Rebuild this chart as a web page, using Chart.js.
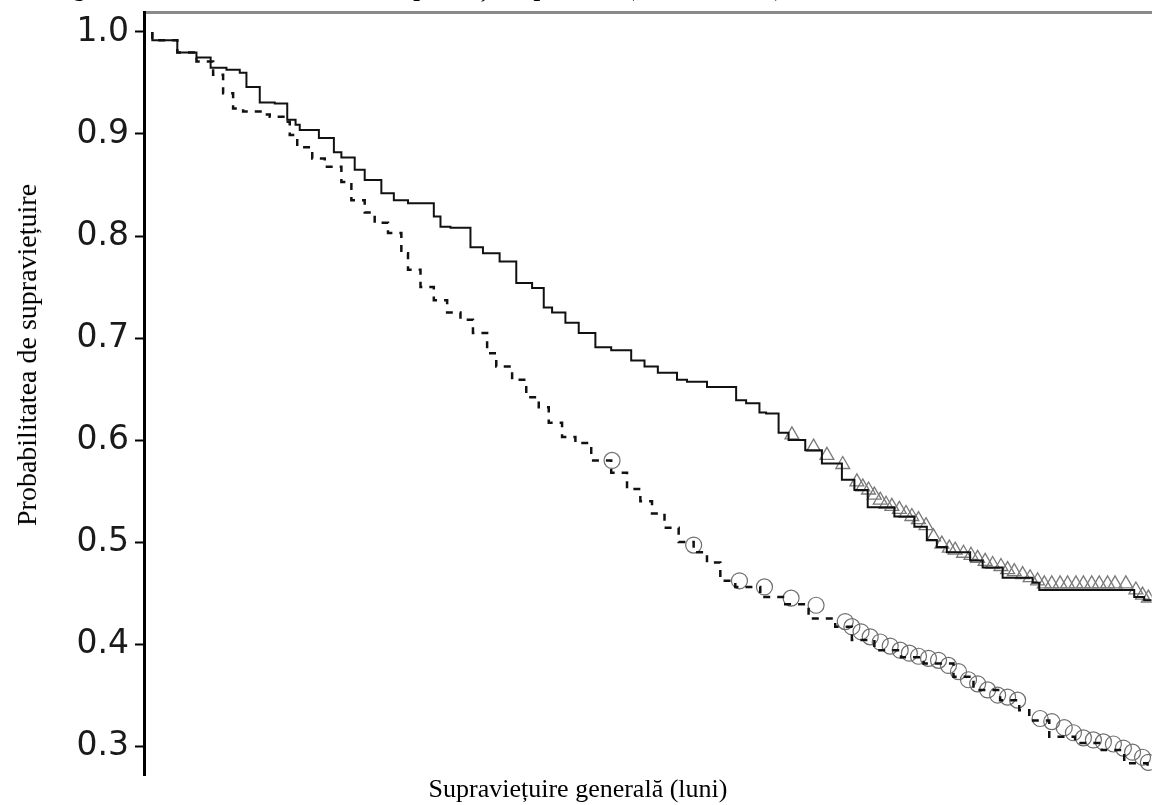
<!DOCTYPE html>
<html>
<head>
<meta charset="utf-8">
<script src="https://cdn.jsdelivr.net/npm/chart.js@4.4.1/dist/chart.umd.min.js"></script>
<style>
  html, body { margin: 0; padding: 0; background: #fff; overflow: hidden; }
  #wrap { position: absolute; left: 0; top: 0; width: 1161px; height: 805px; }
  .lbl { position: absolute; font-family: "Liberation Serif", "Times New Roman", serif; color: #000; white-space: nowrap; }
  #title { left: 52px; top: -24px; font-size: 24px; font-weight: bold; line-height: 1; }
  #ytitle { left: 27px; top: 355px; font-size: 28px; transform: translate(-50%, -50%) rotate(-90deg); }
  #xtitle { left: 578px; top: 789px; font-size: 26px; transform: translate(-50%, -50%); }
</style>
</head>
<body>
<div id="wrap"><canvas id="km"></canvas></div>
<div class="lbl" id="title">Figura 2. Rata totală a curbei de supraviețuire pe loturi (ST versus DT)</div>
<div class="lbl" id="ytitle">Probabilitatea de supraviețuire</div>
<div class="lbl" id="xtitle">Supraviețuire generală (luni)</div>
<script>
// Kaplan-Meier curves, time in months, survival probability
const solidTime = [0, 3.0, 5.3, 7.0, 8.9, 10.5, 11.3, 12.9, 14.7, 16.2, 17.2, 17.7, 20.0, 21.8, 22.7, 24.3, 25.5, 27.5, 29.0, 30.7, 33.8, 34.6, 35.8, 38.2, 39.7, 41.7, 43.7, 45.6, 47.0, 48.0, 49.6, 51.2, 53.2, 55.1, 57.5, 59.1, 60.7, 63.0, 64.2, 66.6, 70.1, 71.3, 72.9, 73.7, 75.2, 76.4, 78.4, 80.4, 82.8, 84.3, 85.9, 89.1, 91.5, 93.0, 94.2, 95.4, 98.2, 99.7, 102.1, 105.7, 106.5, 117.9, 119.1, 120];
const solidSurv = [1.000, 0.992, 0.980, 0.975, 0.965, 0.963, 0.960, 0.946, 0.931, 0.930, 0.914, 0.909, 0.904, 0.896, 0.882, 0.877, 0.865, 0.855, 0.842, 0.835, 0.832, 0.819, 0.809, 0.808, 0.789, 0.783, 0.775, 0.754, 0.749, 0.730, 0.725, 0.715, 0.705, 0.691, 0.688, 0.678, 0.672, 0.666, 0.659, 0.657, 0.652, 0.639, 0.636, 0.627, 0.626, 0.607, 0.600, 0.590, 0.577, 0.561, 0.551, 0.534, 0.525, 0.515, 0.502, 0.495, 0.490, 0.482, 0.475, 0.465, 0.460, 0.453, 0.446, 0.443];

const dashTime = [0, 3.0, 5.3, 7.3, 8.5, 9.7, 10.9, 13.6, 14.1, 16.0, 16.5, 17.4, 19.2, 20.7, 22.7, 23.9, 25.5, 26.7, 28.3, 29.9, 30.7, 32.2, 33.8, 35.4, 37.0, 38.5, 40.2, 41.3, 43.2, 44.9, 46.4, 47.6, 49.2, 50.8, 52.7, 55.1, 57.0, 58.6, 60.0, 61.5, 63.2, 65.0, 66.6, 68.2, 70.0, 73.0, 76.0, 78.8, 82.0, 84.0, 86.7, 89.9, 92.6, 96.2, 98.6, 101.8, 104.1, 105.3, 107.7, 110.8, 114.0, 116.7, 119.5, 120];
const dashSurv = [1.000, 0.992, 0.980, 0.971, 0.958, 0.940, 0.925, 0.922, 0.919, 0.917, 0.912, 0.899, 0.887, 0.876, 0.868, 0.853, 0.835, 0.823, 0.813, 0.803, 0.783, 0.767, 0.750, 0.737, 0.725, 0.718, 0.705, 0.685, 0.672, 0.659, 0.642, 0.632, 0.617, 0.603, 0.597, 0.580, 0.568, 0.552, 0.540, 0.528, 0.514, 0.500, 0.490, 0.480, 0.462, 0.456, 0.446, 0.439, 0.425, 0.417, 0.404, 0.394, 0.387, 0.381, 0.368, 0.355, 0.345, 0.335, 0.325, 0.309, 0.303, 0.296, 0.283, 0.280];

// censored observations
const triTime = [76.8, 79.4, 81.0, 82.9, 84.6, 85.3, 86.0, 86.7, 87.4, 88.1, 88.8, 89.7, 90.5, 91.2, 92.0, 92.9, 93.8, 94.8, 95.7, 96.4, 97.4, 98.3, 99.1, 100.0, 100.9, 101.9, 102.7, 103.5, 104.5, 105.4, 106.3, 107.1, 108.0, 109.0, 109.9, 110.9, 111.8, 112.8, 113.7, 114.7, 115.6, 116.9, 118.1, 118.9, 119.6];
const triSurv = [0.605, 0.593, 0.585, 0.576, 0.559, 0.554, 0.551, 0.546, 0.541, 0.537, 0.535, 0.532, 0.528, 0.525, 0.522, 0.516, 0.505, 0.498, 0.494, 0.492, 0.489, 0.487, 0.484, 0.481, 0.478, 0.476, 0.473, 0.471, 0.468, 0.465, 0.462, 0.459, 0.459, 0.459, 0.459, 0.459, 0.459, 0.459, 0.459, 0.459, 0.459, 0.459, 0.453, 0.448, 0.445];
const circTime = [55.2, 65.0, 70.5, 73.5, 76.7, 79.7, 83.2, 84.0, 85.1, 86.2, 87.4, 88.6, 89.8, 90.9, 92.0, 93.2, 94.4, 95.6, 96.8, 98.0, 99.1, 100.3, 101.5, 102.7, 103.9, 106.6, 108.0, 109.5, 110.6, 111.8, 113.0, 114.2, 115.4, 116.6, 117.7, 118.9, 119.6];
const circSurv = [0.580, 0.497, 0.462, 0.456, 0.445, 0.438, 0.422, 0.417, 0.412, 0.407, 0.402, 0.398, 0.394, 0.391, 0.388, 0.386, 0.384, 0.379, 0.373, 0.365, 0.361, 0.355, 0.350, 0.348, 0.345, 0.327, 0.324, 0.318, 0.313, 0.308, 0.306, 0.304, 0.302, 0.298, 0.294, 0.289, 0.284];

const yTicks = [0.3, 0.4, 0.5, 0.6, 0.7, 0.8, 0.9, 1.0];

const pts = (xs, ys) => xs.map((x, i) => ({ x: x, y: ys[i] }));

const ctx = document.getElementById('km').getContext('2d');
new Chart(ctx, {
  type: 'line',
  data: {
    datasets: [
      {
        label: 'Grup 1',
        data: pts(solidTime, solidSurv),
        stepped: 'after',
        borderColor: '#111',
        borderWidth: 2,
        pointRadius: 0,
        fill: false
      },
      {
        label: 'Grup 2',
        data: pts(dashTime, dashSurv),
        stepped: 'after',
        borderColor: '#111',
        borderWidth: 2.5,
        borderDash: [7, 7],
        pointRadius: 0,
        fill: false
      },
      {
        label: 'Cenzurat grup 1',
        data: pts(triTime, triSurv),
        showLine: false,
        pointStyle: 'triangle',
        pointRadius: 8,
        pointBorderColor: '#7a7a7a',
        pointBackgroundColor: 'rgba(255,255,255,0)',
        pointBorderWidth: 1.3
      },
      {
        label: 'Cenzurat grup 2',
        data: pts(circTime, circSurv),
        showLine: false,
        pointStyle: 'circle',
        pointRadius: 8,
        pointBorderColor: '#6e6e6e',
        pointBackgroundColor: 'rgba(255,255,255,0)',
        pointBorderWidth: 1.2
      }
    ]
  },
  options: {
    responsive: true,
    maintainAspectRatio: false,
    animation: false,
    layout: { padding: { top: 12, bottom: 30, left: 0, right: 0 } },
    plugins: { legend: { display: false }, tooltip: { enabled: false } },
    scales: {
      x: { type: 'linear', min: -1, max: 120, display: false },
      xTop: {
        type: 'linear', position: 'top', min: -1, max: 120,
        ticks: { display: false },
        grid: { display: false, drawTicks: false },
        border: { display: true, color: '#8a8a8a', width: 3 },
        afterFit: s => { s.height = 0; s.paddingLeft = 0; s.paddingRight = 0; }
      },
      y: {
        min: 0.2716, max: 1.0196,
        afterBuildTicks: axis => { axis.ticks = yTicks.map(v => ({ value: v })); },
        afterFit: s => { s.width = 144; s.paddingTop = 0; s.paddingBottom = 0; },
        ticks: {
          font: { family: 'DejaVu Sans', size: 33 },
          color: '#1a1a1a',
          padding: 6,
          callback: v => v.toFixed(1)
        },
        grid: { drawOnChartArea: false, tickLength: 9, tickColor: '#000', tickWidth: 2 },
        border: { color: '#000', width: 3 }
      }
    }
  }
});
</script>
</body>
</html>
